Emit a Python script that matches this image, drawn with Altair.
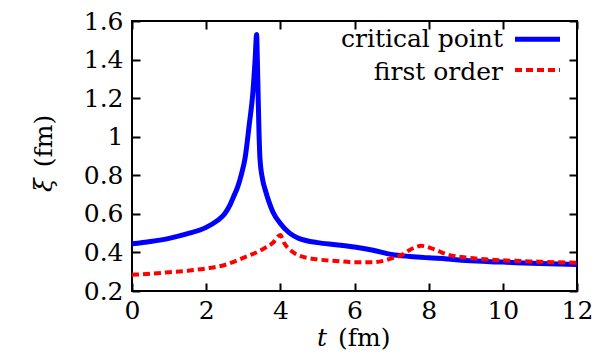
import altair as alt
import pandas as pd

# ---- data ----
blue_t = [0, 0.5, 1, 1.5, 2, 2.3, 2.5, 2.64, 2.73, 2.85, 2.95, 3.05, 3.16, 3.26, 3.32, 3.36,
          3.38, 3.40, 3.42, 3.45, 3.52, 3.6, 3.68, 3.8, 4.0, 4.25, 4.5, 5, 5.5, 6, 6.5, 7,
          7.5, 8, 8.5, 9, 10, 11, 12]
blue_xi = [0.445, 0.457, 0.473, 0.497, 0.53, 0.565, 0.60, 0.645, 0.685, 0.74, 0.805, 0.89, 1.06, 1.23, 1.40, 1.53,
           1.40, 1.23, 1.06, 0.89, 0.78, 0.72, 0.67, 0.61, 0.55, 0.50, 0.473, 0.451, 0.44, 0.428, 0.411, 0.389,
           0.379, 0.372, 0.366, 0.358, 0.350, 0.342, 0.337]

red_t = [0, 0.5, 1, 1.5, 2, 2.5, 3, 3.5, 3.8, 4.0, 4.1, 4.3, 4.5, 5, 5.5, 6, 6.5, 7, 7.3, 7.5,
         7.8, 8.1, 8.5, 9, 10, 11, 12]
red_xi = [0.284, 0.29, 0.297, 0.305, 0.317, 0.335, 0.372, 0.414, 0.45, 0.49, 0.45, 0.407, 0.384,
          0.364, 0.356, 0.349, 0.349, 0.369, 0.39, 0.414, 0.434, 0.42, 0.389, 0.374, 0.359, 0.352, 0.346]

x_ticks = [0, 2, 4, 6, 8, 10, 12]
y_ticks = [0.2, 0.4, 0.6, 0.8, 1.0, 1.2, 1.4, 1.6]
legend_labels = ["critical point", "first order"]
x_title = ["t", "(fm)"]
y_title = ["ξ", "(fm)"]

W, H = 445, 270
FONT = "DejaVu Serif"
FS = 25

blue_df = pd.DataFrame({"t": blue_t, "xi": blue_xi})
red_df = pd.DataFrame({"t": red_t, "xi": red_xi})

xs = alt.Scale(domain=[0, 12], nice=False, zero=False)
ys = alt.Scale(domain=[0.2, 1.6], nice=False, zero=False)

common = dict(grid=False, domain=False, title=None)

# labelled axes (no ticks)
ax_x_lab = alt.Axis(orient="bottom", values=x_ticks, ticks=False, labelFont=FONT, labelFontSize=FS,
                    labelColor="black", labelPadding=7, labelFlush=False, labelOverlap=False,
                    labelBound=False, **common)
ax_y_lab = alt.Axis(orient="left", values=y_ticks, ticks=False, labelFont=FONT, labelFontSize=FS,
                    labelColor="black", labelPadding=9, labelFlush=False, labelOverlap=False,
                    labelBound=False, format="~g", **common)
# inward ticks at bottom / left
ax_x_in_bottom = alt.Axis(orient="top", offset=-H, values=x_ticks, labels=False, tickSize=8,
                          tickWidth=2, tickColor="black", **common)
ax_y_in_left = alt.Axis(orient="right", offset=-W, values=y_ticks, labels=False, tickSize=8,
                        tickWidth=2, tickColor="black", **common)
# inward ticks at top / right
ax_x_in_top = alt.Axis(orient="bottom", offset=-H, values=x_ticks, labels=False, tickSize=8,
                       tickWidth=2, tickColor="black", **common)
ax_y_in_right = alt.Axis(orient="left", offset=-W, values=y_ticks, labels=False, tickSize=8,
                         tickWidth=2, tickColor="black", **common)

blue = alt.Chart(blue_df).mark_line(color="#0000ff", strokeWidth=5, interpolate="monotone").encode(
    x=alt.X("t:Q", scale=xs, axis=ax_x_lab),
    y=alt.Y("xi:Q", scale=ys, axis=ax_y_lab),
)
red = alt.Chart(red_df).mark_line(color="#ff0000", strokeWidth=4, strokeDash=[7, 4],
                                  interpolate="monotone").encode(
    x=alt.X("t:Q", scale=xs, axis=ax_x_in_bottom),
    y=alt.Y("xi:Q", scale=ys, axis=ax_y_in_left),
)
ghost = alt.Chart(red_df).mark_line(strokeOpacity=0).encode(
    x=alt.X("t:Q", scale=xs, axis=ax_x_in_top),
    y=alt.Y("xi:Q", scale=ys, axis=ax_y_in_right),
)

def txt(s, x, y, align="left", angle=0, italic=False):
    return alt.Chart(pd.DataFrame({"s": [s]})).mark_text(
        font=FONT, fontSize=FS, color="black", align=align, baseline="alphabetic",
        angle=angle, fontStyle="italic" if italic else "normal"
    ).encode(text="s:N", x=alt.value(x), y=alt.value(y))

leg1 = txt(legend_labels[0], 371, 25.7, align="right")
leg2 = txt(legend_labels[1], 371, 59, align="right")
leg_line1 = alt.Chart(pd.DataFrame({"s": [legend_labels[0]]})).mark_rule(
    color="#0000ff", strokeWidth=5).encode(x=alt.value(383), x2=alt.value(428), y=alt.value(18.3))
leg_line2 = alt.Chart(pd.DataFrame({"s": [legend_labels[1]]})).mark_rule(
    color="#ff0000", strokeWidth=4, strokeDash=[7, 4]).encode(x=alt.value(383), x2=alt.value(428), y=alt.value(49))

xt1 = txt(x_title[0], 195, 325, align="right", italic=True)
xt2 = txt(x_title[1], 206, 325, align="left")
yt1 = txt(y_title[0], -80, 164, align="center", angle=270, italic=True)
yt2 = txt(y_title[1], -80, 120, align="center", angle=270)

chart = alt.layer(blue, red, ghost, leg1, leg2, leg_line1, leg_line2, xt1, xt2, yt1, yt2).resolve_axis(
    x="independent", y="independent"
).properties(
    width=W, height=H,
    autosize=alt.AutoSizeParams(type="none"),
    padding={"left": 124, "top": 13, "right": 15, "bottom": 60},
).configure_view(stroke="black", strokeWidth=2)

chart.save("out.html", embed_options={"renderer": "svg", "actions": False})
